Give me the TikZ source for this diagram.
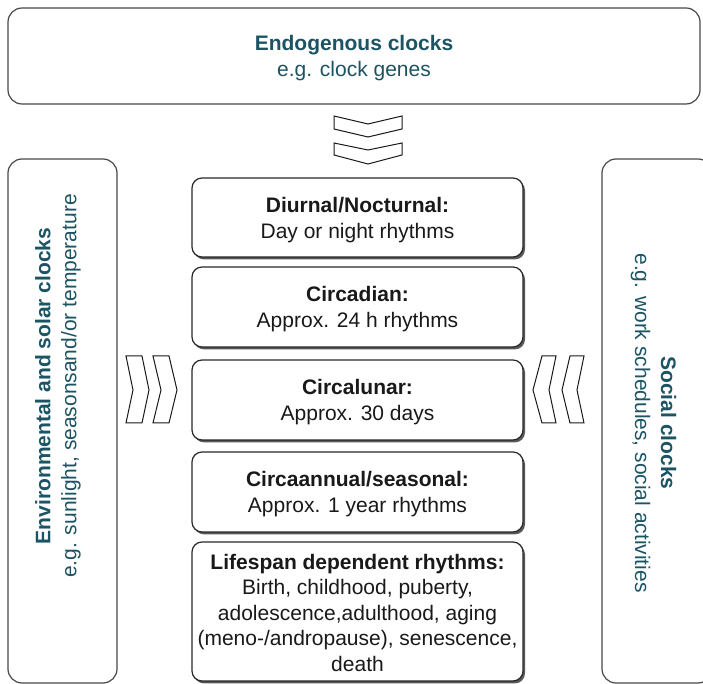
\documentclass[tikz,border=0pt]{standalone}
\usepackage{fontspec}
\setmainfont{Liberation Sans}
\usetikzlibrary{shadows}
\definecolor{teal1}{RGB}{28,84,99}
\definecolor{edge}{RGB}{40,40,40}
\tikzset{
  x=0.5pt, y=-0.5pt,
  every node/.style={font=\fontsize{10.5}{13}\selectfont, inner sep=0pt, outer sep=0pt},
  rhythm/.style={draw=edge, line width=0.6pt, fill=white, rounded corners=5pt,
    minimum width=165.5pt,
    drop shadow={shadow xshift=1pt, shadow yshift=-1.2pt, fill=black!65, opacity=1}},
  rtext/.style={align=center, text=black!90, yshift=-1.2pt},
  bigbox/.style={draw=edge!85, line width=0.6pt, fill=white, rounded corners=7pt},
  sidetext/.style={text=teal1, align=center},
  chev/.style={draw=black!90, line width=0.5pt, fill=white, line join=miter}
}
\begin{document}
\begin{tikzpicture}
\useasboundingbox (0,0) rectangle (703,684);
\clip (0,0) rectangle (703,684);
% top box
\node[bigbox, minimum width=346pt, minimum height=48pt] (endo) at (354,56) {};
\node[sidetext] (endot) at (354,58) {\textbf{Endogenous clocks}\\e.g. clock genes};
% top chevrons
\draw[chev] (334,116) -- (368,124) -- (402,116) -- (402,129) -- (368,137) -- (334,129) -- cycle;
\draw[chev] (334,143) -- (368,150) -- (402,143) -- (402,155) -- (368,164) -- (334,155) -- cycle;
% side boxes
\node[bigbox, minimum width=54.5pt, minimum height=262pt] (env) at (62.5,421) {};
\node[sidetext, rotate=90] (envt) at (58,386) {\textbf{Environmental and solar clocks}\\e.g. sunlight, seasonsand/or temperature};
\node[bigbox, minimum width=55pt, minimum height=262pt] (soc) at (657,421) {};
\node[sidetext, rotate=-90] (soct) at (653.5,423) {\textbf{Social clocks}\\e.g. work schedules, social activities};
% side chevrons
\draw[chev] (126,356) -- (142,356) -- (149,390) -- (142,423) -- (126,423) -- (133,390) -- cycle;
\draw[chev] (153,356) -- (169,356) -- (177,390) -- (169,423) -- (153,423) -- (161,390) -- cycle;
\draw[chev] (542,356) -- (556,356) -- (549,390) -- (556,423) -- (542,423) -- (533,390) -- cycle;
\draw[chev] (570,356) -- (584,356) -- (577,390) -- (584,423) -- (570,423) -- (562,390) -- cycle;
% rhythm boxes
\node[rhythm, minimum height=39.5pt] (diur) at (357.5,217.5) {};
\node[rtext] (diurt) at (diur.center) {\textbf{Diurnal/Nocturnal:}\\Day or night rhythms};
\node[rhythm, minimum height=40pt] (circ) at (357.5,307) {};
\node[rtext] (circt) at (circ.center) {\textbf{Circadian:}\\Approx. 24 h rhythms};
\node[rhythm, minimum height=40pt] (luna) at (357.5,400) {};
\node[rtext] (lunat) at (luna.center) {\textbf{Circalunar:}\\Approx. 30 days};
\node[rhythm, minimum height=40pt] (annu) at (357.5,492) {};
\node[rtext] (annut) at (annu.center) {\textbf{Circaannual/seasonal:}\\Approx. 1 year rhythms};
\node[rhythm, minimum height=69.5pt] (life) at (357.5,611.5) {};
\node[rtext, font=\fontsize{10.5}{12.8}\selectfont, yshift=0.6pt] (lifet) at (life.center) {\textbf{Lifespan dependent rhythms:}\\Birth, childhood, puberty,\\adolescence,adulthood, aging\\(meno-/andropause), senescence,\\death};
\end{tikzpicture}
\end{document}
